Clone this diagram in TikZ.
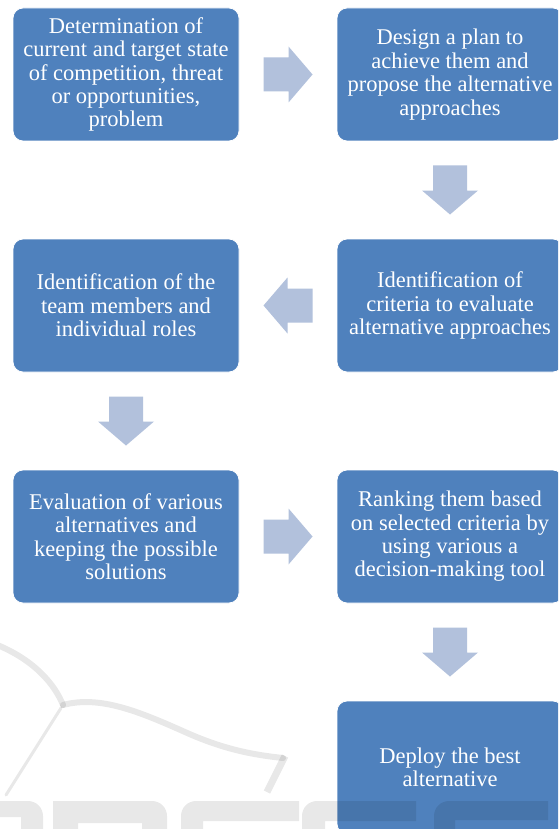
\documentclass[tikz,border=0pt]{standalone}
\usepackage{fontspec}
\setmainfont{Liberation Serif}
\usetikzlibrary{calc}
\definecolor{boxblue}{RGB}{79,129,189}
\definecolor{arrowblue}{RGB}{178,193,220}
\newcommand\blockarrowat[2]{\fill[arrowfill, shift={(#1)}, rotate=#2] (-24.5,-17) -- (0.5,-17) -- (0.5,-28) -- (24.5,0) -- (0.5,28) -- (0.5,17) -- (-24.5,17) -- cycle;}
\begin{document}
\begin{tikzpicture}[x=1pt,y=-1pt,
 stepbox/.style={rectangle, rounded corners=10pt, fill=boxblue, draw=white, line width=0.8pt, minimum width=226pt, minimum height=133pt, text=white, align=center, font=\fontsize{22.5}{23.4}\selectfont, inner sep=0pt},
 arrowfill/.style={fill=arrowblue, draw=none},
 wm/.style={fill=black, fill opacity=0.09, draw=none},
 wmline/.style={draw=black, draw opacity=0.09, line cap=round}]
\path[use as bounding box] (0,0) rectangle (558,829);
\clip (0,0) rectangle (558,829);
\fill[white] (0,0) rectangle (558,829);

\node[stepbox] (b1) at (126,74.5) {Determination of\\current and target state\\of competition, threat\\or opportunities,\\problem};
\node[stepbox] (b2) at (450,74.5) {Design a plan to\\achieve them and\\propose the alternative\\approaches};
\node[stepbox] (b3) at (450,305.5) {Identification of\\criteria to evaluate\\alternative approaches};
\node[stepbox] (b4) at (126,305.5) {Identification of the\\team members and\\individual roles};
\node[stepbox] (b5) at (126,536.5) {Evaluation of various\\alternatives and\\keeping the possible\\solutions};
\node[stepbox] (b6) at (450,536.5) {Ranking them based\\on selected criteria by\\using various a\\decision-making tool};
\node[stepbox] (b7) at (450,767.5) {Deploy the best\\alternative};

\coordinate (m1) at ($(b1.east)!0.5!(b2.west)$);
\coordinate (m2) at ($(b2.south)!0.5!(b3.north)$);
\coordinate (m3) at ($(b3.west)!0.5!(b4.east)$);
\coordinate (m4) at ($(b4.south)!0.5!(b5.north)$);
\coordinate (m5) at ($(b5.east)!0.5!(b6.west)$);
\coordinate (m6) at ($(b6.south)!0.5!(b7.north)$);
\blockarrowat{m1}{0}
\blockarrowat{m2}{-90}
\blockarrowat{m3}{180}
\blockarrowat{m4}{-90}
\blockarrowat{m5}{0}
\blockarrowat{m6}{-90}

% watermark
\draw[wmline, line width=6pt] (-5,644) .. controls (35,660) and (55,685) .. (63,705);
\draw[wmline, line width=6pt] (63,705) .. controls (100,695) and (140,712) .. (185,732) .. controls (225,750) and (255,755) .. (283,758);
\draw[wmline, line width=7pt, line cap=butt] (285,756) -- (267,792);
\draw[wmline, line width=3pt] (61,708) -- (6,795);
% letter tops
\fill[wm] (-10,829) -- (-10,801) -- (28,801) .. controls (36.3,801) and (43,807.7) .. (43,816) -- (43,829) -- (21,829) -- (21,817) -- (-10,817) -- cycle;
\fill[wm] (53,829) -- (53,801) -- (152,801) .. controls (160.3,801) and (167,807.7) .. (167,816) -- (167,829) -- (142,829) -- (142,823) -- (78,823) -- (78,829) -- cycle;
\fill[wm] (181,829) -- (181,816) .. controls (181,807.7) and (187.7,801) .. (196,801) -- (299,801) -- (299,821) -- (203,821) -- (203,829) -- cycle;
\fill[wm] (302,829) -- (302,816) .. controls (302,807.7) and (308.7,801) .. (317,801) -- (416,801) -- (416,821) -- (325,821) -- (325,829) -- cycle;
\fill[wm] (434,829) -- (434,816) .. controls (434,807.7) and (440.7,801) .. (449,801) -- (548,801) -- (548,820) -- (455,820) -- (455,829) -- cycle;
\end{tikzpicture}
\end{document}
